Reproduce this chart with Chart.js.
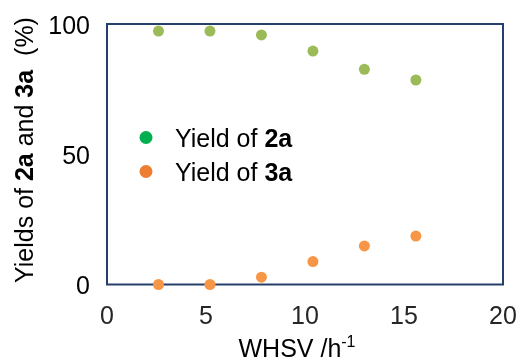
<!DOCTYPE html>
<html>
<head>
<meta charset="utf-8">
<script src="https://cdn.jsdelivr.net/npm/chart.js@4/dist/chart.umd.min.js"></script>
<style>
  html, body { margin: 0; padding: 0; background: #fff; }
  #wrap { width: 520px; height: 362px; }
</style>
</head>
<body>
<div id="wrap"><canvas id="yieldChart" width="520" height="362"></canvas></div>
<script>
var whsv = [2.6, 5.2, 7.8, 10.4, 13.0, 15.6];
var yield2a = [97.3, 97.3, 95.8, 89.6, 82.6, 78.5];
var yield3a = [0, 0, 2.8, 8.8, 14.8, 18.6];

var FONT = '"Liberation Sans", Arial, sans-serif';

function pts(xs, ys) {
  return xs.map(function (x, i) { return { x: x, y: ys[i] }; });
}

// draw a run of [text, bold] pieces left to right, returns the end x
function drawRuns(ctx, runs, x, y, size) {
  runs.forEach(function (r) {
    ctx.font = (r[1] ? 'bold ' : '') + size + 'px ' + FONT;
    ctx.fillText(r[0], x, y);
    x += ctx.measureText(r[0]).width;
  });
  return x;
}
function runsWidth(ctx, runs, size) {
  var w = 0;
  runs.forEach(function (r) {
    ctx.font = (r[1] ? 'bold ' : '') + size + 'px ' + FONT;
    w += ctx.measureText(r[0]).width;
  });
  return w;
}

var frameAndText = {
  id: 'frameAndText',
  beforeDatasetsDraw: function (chart) {
    var ctx = chart.ctx, a = chart.chartArea;
    ctx.save();
    ctx.strokeStyle = '#243f6b';
    ctx.lineWidth = 2;
    ctx.strokeRect(a.left, a.top, a.right - a.left, a.bottom - a.top);
    ctx.restore();
  },
  afterDraw: function (chart) {
    var ctx = chart.ctx;
    ctx.save();
    ctx.fillStyle = '#000';
    ctx.textBaseline = 'alphabetic';
    ctx.textAlign = 'left';

    // x axis title with superscript
    ctx.font = '25px ' + FONT;
    var main = 'WHSV /h';
    var wMain = ctx.measureText(main).width;
    ctx.font = '16px ' + FONT;
    var wSup = ctx.measureText('-1').width;
    var x0 = 297 - (wMain + wSup) / 2;
    ctx.font = '25px ' + FONT;
    ctx.fillText(main, x0, 357);
    ctx.font = '16px ' + FONT;
    ctx.fillText('-1', x0 + wMain, 347);

    // y axis title, rotated
    var yRuns = [['Yields of ', false], ['2a', true], [' and ', false], ['3a', true], ['  (%)', false]];
    var wy = runsWidth(ctx, yRuns, 25);
    ctx.translate(33, 150);
    ctx.rotate(-Math.PI / 2);
    drawRuns(ctx, yRuns, -wy / 2, 0, 25);
    ctx.setTransform(1, 0, 0, 1, 0, 0);

    // legend
    var items = [
      { color: '#00b050', runs: [['Yield of ', false], ['2a', true]], y: 137.5 },
      { color: '#ed7d31', runs: [['Yield of ', false], ['3a', true]], y: 171.5 }
    ];
    items.forEach(function (it) {
      ctx.beginPath();
      ctx.fillStyle = it.color;
      ctx.arc(146, it.y, 6.5, 0, Math.PI * 2);
      ctx.fill();
      ctx.fillStyle = '#000';
      drawRuns(ctx, it.runs, 175, it.y + 9.5, 25);
    });
    ctx.restore();
  }
};

new Chart(document.getElementById('yieldChart').getContext('2d'), {
  type: 'scatter',
  data: {
    datasets: [{
      label: 'Yield of 2a',
      data: pts(whsv, yield2a),
      backgroundColor: '#9bbb59',
      borderWidth: 0,
      pointRadius: 5.5,
      clip: false
    }, {
      label: 'Yield of 3a',
      data: pts(whsv, yield3a),
      backgroundColor: '#f79646',
      borderWidth: 0,
      pointRadius: 5.5,
      clip: false
    }]
  },
  options: {
    responsive: false,
    animation: false,
    layout: { padding: { left: 0, right: 17, top: 24, bottom: 0 } },
    plugins: { legend: { display: false }, tooltip: { enabled: false } },
    scales: {
      x: {
        type: 'linear',
        min: 0, max: 20,
        grid: { display: false },
        border: { display: false },
        ticks: { stepSize: 5, color: '#262626', padding: 10, font: { family: FONT, size: 25 } },
        afterFit: function (s) {
          s.height = 362 - 284.5;
          s.paddingLeft = 0;
          s.paddingRight = 0;
        }
      },
      y: {
        min: 0, max: 100,
        grid: { display: false },
        border: { display: false },
        ticks: { stepSize: 50, color: '#000', padding: 9, labelOffset: 3, font: { family: FONT, size: 25 } },
        afterFit: function (s) {
          s.width = 107;
          s.paddingTop = 0;
          s.paddingBottom = 0;
        }
      }
    }
  },
  plugins: [frameAndText]
});
</script>
</body>
</html>
